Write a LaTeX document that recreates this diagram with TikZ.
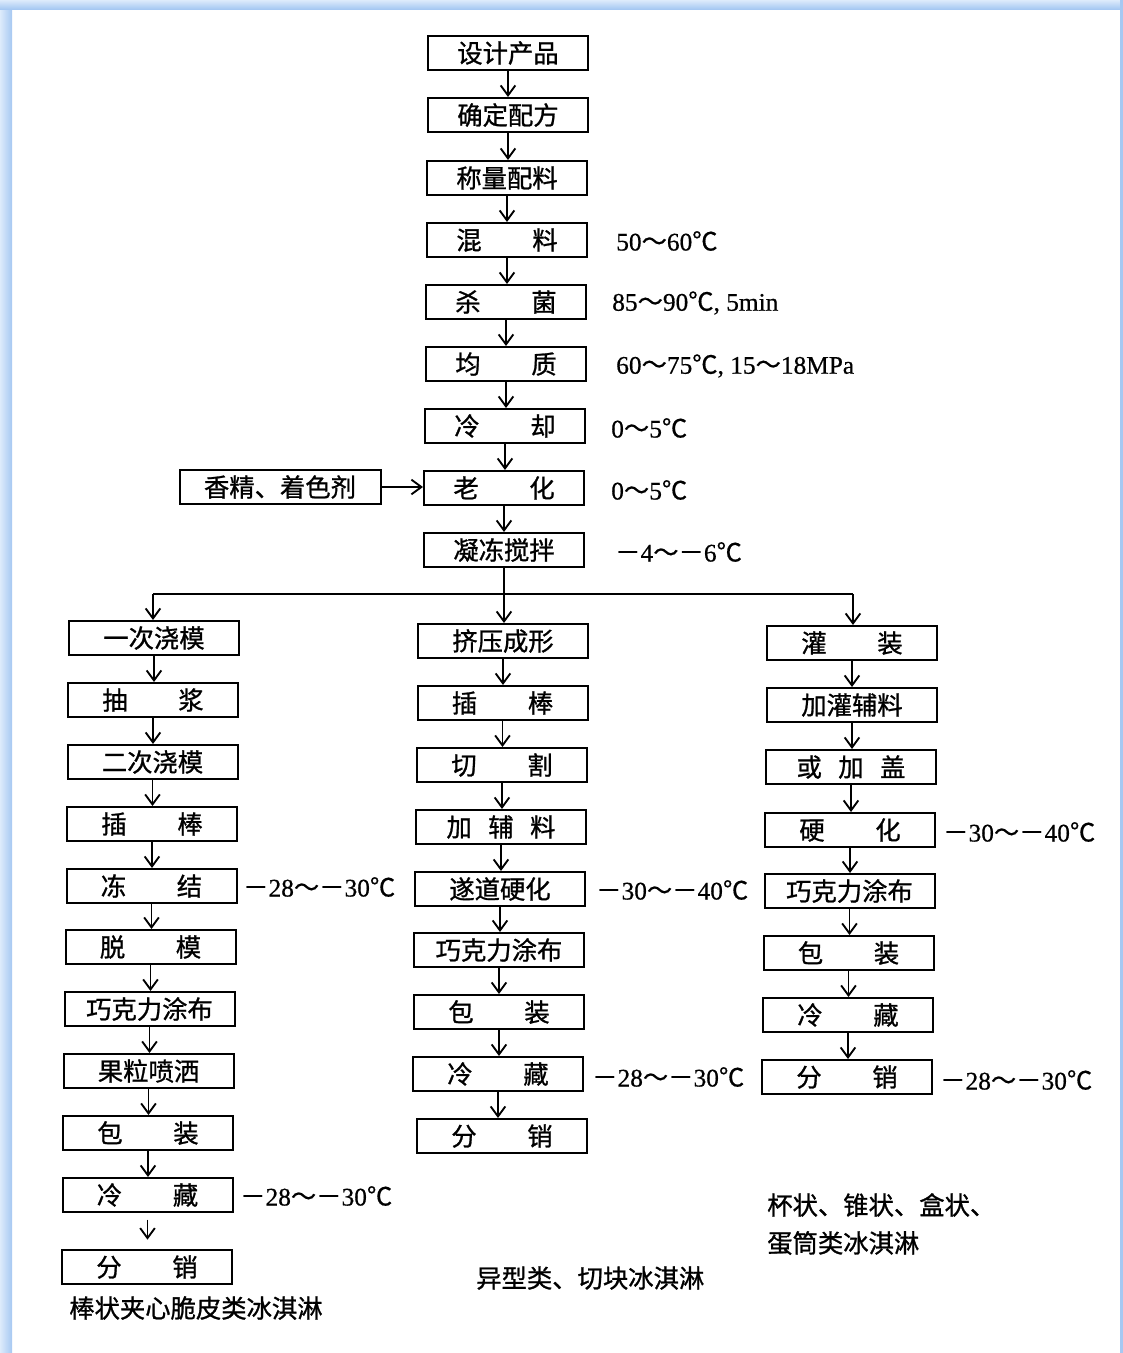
\documentclass[tikz,border=0pt]{standalone}
\usepackage{fontspec}
\setmainfont{Liberation Serif}[FakeBold=0.6]
\newfontfamily\cjk[FakeBold=1]{Noto Sans CJK SC}
\newfontfamily\cjkr[FakeBold=0.6]{Noto Sans CJK SC}
\usetikzlibrary{arrows.meta}
\definecolor{frb}{HTML}{A6C8F2}
\definecolor{frl}{HTML}{DDEBFB}
\newcommand\tld{{\cjkr ～}}
\newcommand\dgc{{\cjkr ℃}}
\newcommand\mns{{\cjkr －}}
\newcommand\cm{{\cjkr ，}}
\newcommand\wsp[2]{#1\hspace{2em}#2}
\begin{document}
\begin{tikzpicture}[x=0.75pt,y=-0.75pt,
  box/.style={draw, line width=1.5pt, minimum width=127.5pt, minimum height=25.5pt, inner sep=0pt,
     font=\cjk\fontsize{19}{22}\selectfont},
  mbox/.style={box, minimum width=120pt},
  arr/.style={-{Straight Barb[length=7.5pt,width=11pt,line width=1.4pt]}, line width=1.4pt},
  tmp/.style={anchor=west, inner sep=0pt, font=\fontsize{19}{22}\selectfont},
  captxt/.style={anchor=west, inner sep=0pt, font=\cjk\fontsize{19}{22}\selectfont}]
\useasboundingbox (0,0) rectangle (1123,1353);
% frame
\shade[left color=frl, right color=frb] (0,0) rectangle (12,1353);
\shade[top color=frl, bottom color=frb] (0,0) rectangle (1123,9);
\fill[frb] (1120,0) rectangle (1123,1353);

% main column
\node[mbox] (m1) at (508,53) {设计产品};
\node[mbox] (m2) at (508,115) {确定配方};
\node[mbox] (m3) at (507,178) {称量配料};
\node[mbox] (m4) at (507,240) {\wsp{混}{料}};
\node[mbox] (m5) at (506,302) {\wsp{杀}{菌}};
\node[mbox] (m6) at (506,364) {\wsp{均}{质}};
\node[mbox] (m7) at (505,426) {\wsp{冷}{却}};
\node[mbox] (m8) at (504,488) {\wsp{老}{化}};
\node[mbox] (m9) at (504,550) {凝冻搅拌};
\node[box, minimum width=150.75pt] (fl) at (280,487) {香精、着色剂};

\foreach \a/\b in {m1/m2,m2/m3,m3/m4,m4/m5,m5/m6,m6/m7,m7/m8,m8/m9}
  \draw[arr] (\a.south) -- (\a.south |- \b.north);
\draw[arr] (fl.east) -- (fl.east -| m8.west);

\node[tmp] (t1) at (616,241) {50\tld60\dgc};
\node[tmp] (t2) at (612,303) {85\tld90\dgc, 5min};
\node[tmp] (t3) at (616,366) {60\tld75\dgc, 15\tld18MPa};
\node[tmp] (t4) at (611,428) {0\tld5\dgc};
\node[tmp] (t5) at (611,490) {0\tld5\dgc};
\node[tmp] (t6) at (615,552) {\mns4\tld\mns6\dgc};

% left column
\node[box] (l1) at (154,638) {一次浇模};
\node[box] (l2) at (153,700) {\wsp{抽}{浆}};
\node[box] (l3) at (152.5,762) {二次浇模};
\node[box] (l4) at (152,824) {\wsp{插}{棒}};
\node[box] (l5) at (151.5,886) {\wsp{冻}{结}};
\node[box] (l6) at (150.5,947) {\wsp{脱}{模}};
\node[box] (l7) at (149.5,1009) {巧克力涂布};
\node[box] (l8) at (148.5,1071) {果粒喷洒};
\node[box] (l9) at (148,1133) {\wsp{包}{装}};
\node[box] (l10) at (147.5,1195) {\wsp{冷}{藏}};
\node[box] (l11) at (147,1267) {\wsp{分}{销}};
\foreach \a/\b in {l1/l2,l2/l3,l3/l4,l4/l5,l5/l6,l6/l7,l7/l8,l8/l9,l9/l10}
  \draw[arr] (\a.south) -- (\a.south |- \b.north);
\draw[arr, shorten <=5pt, shorten >=7pt] (l10.south) -- (l10.south |- l11.north);
\node[tmp] (t7) at (243,887) {\mns28\tld\mns30\dgc};
\node[tmp] (t8) at (240,1196) {\mns28\tld\mns30\dgc};
\node[captxt] (cap1) at (69,1308) {棒状夹心脆皮类冰淇淋};

% middle column
\node[box] (c1) at (503,641) {挤压成形};
\node[box] (c2) at (502.5,703) {\wsp{插}{棒}};
\node[box] (c3) at (502,765) {\wsp{切}{割}};
\node[box] (c4) at (501,827) {加\hspace{0.65em}辅\hspace{0.65em}料};
\node[box] (c5) at (500,889) {遂道硬化};
\node[box] (c6) at (499,950) {巧克力涂布};
\node[box] (c7) at (499,1012) {\wsp{包}{装}};
\node[box] (c8) at (498,1074) {\wsp{冷}{藏}};
\node[box] (c9) at (502,1136) {\wsp{分}{销}};
\foreach \a/\b in {c1/c2,c2/c3,c3/c4,c4/c5,c5/c6,c6/c7,c7/c8}
  \draw[arr] (\a.south) -- (\a.south |- \b.north);
\draw[arr] (c8.south) -- (c8.south |- c9.north);
\node[tmp] (t9) at (596,890) {\mns30\tld\mns40\dgc};
\node[tmp] (t10) at (592,1077) {\mns28\tld\mns30\dgc};
\node[captxt] (cap2) at (476,1278) {异型类、切块冰淇淋};

% right column
\node[box] (r1) at (852,643) {\wsp{灌}{装}};
\node[box] (r2) at (852,705) {加灌辅料};
\node[box] (r3) at (851,767) {或\hspace{0.65em}加\hspace{0.65em}盖};
\node[box] (r4) at (850,830) {\wsp{硬}{化}};
\node[box] (r5) at (849.5,891) {巧克力涂布};
\node[box] (r6) at (848.5,953) {\wsp{包}{装}};
\node[box] (r7) at (848,1015) {\wsp{冷}{藏}};
\node[box] (r8) at (847,1077) {\wsp{分}{销}};
\foreach \a/\b in {r1/r2,r2/r3,r3/r4,r4/r5,r5/r6,r6/r7,r7/r8}
  \draw[arr] (\a.south) -- (\a.south |- \b.north);
\node[tmp] (t11) at (943,832) {\mns30\tld\mns40\dgc};
\node[tmp] (t12) at (940,1080) {\mns28\tld\mns30\dgc};
\node[captxt] (cap3) at (767,1205) {杯状、锥状、盒状、};
\node[captxt] (cap4) at (767,1243) {蛋筒类冰淇淋};

% branch
\coordinate (bl) at (153,594);
\coordinate (br) at (853,594);
\draw[line width=1.5pt] (bl) -- (br);
\draw[arr] (bl) -- (bl |- l1.north);
\draw[arr] (br) -- (br |- r1.north);
\draw[arr] (m9.south) -- (m9.south |- c1.north);
\end{tikzpicture}
\end{document}
